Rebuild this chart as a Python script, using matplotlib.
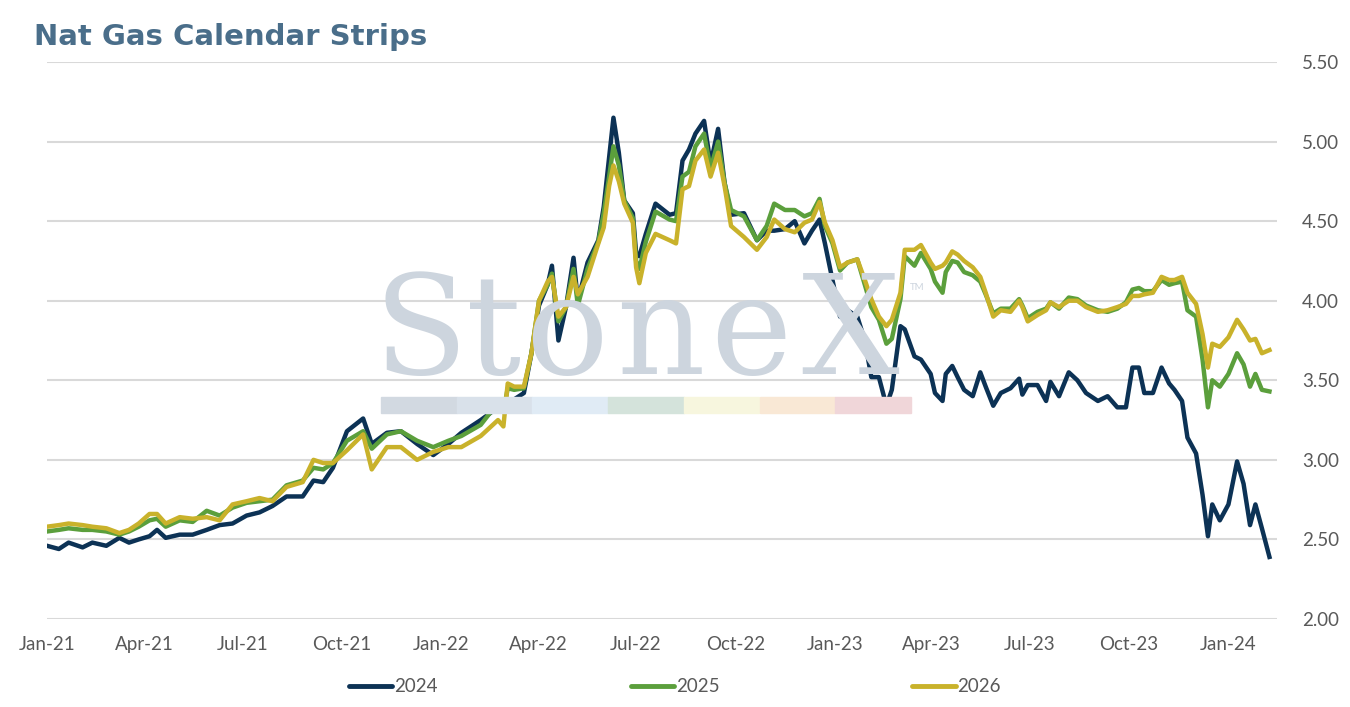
import numpy as np
import pandas as pd
from matplotlib import pyplot as plt
import matplotlib.dates as mdates

# strip settlement prices ($/MMBtu)
dates = [
    '2021-01-01', '2021-01-12', '2021-01-21', '2021-02-03', '2021-02-12', '2021-02-25',
    '2021-03-09', '2021-03-18', '2021-03-27', '2021-04-06', '2021-04-13', '2021-04-21',
    '2021-05-04', '2021-05-16', '2021-05-29', '2021-06-10', '2021-06-22', '2021-07-05',
    '2021-07-17', '2021-07-29', '2021-08-11', '2021-08-26', '2021-09-05',
    '2021-09-14', '2021-09-23', '2021-10-06', '2021-10-21', '2021-10-29', '2021-11-12',
    '2021-11-25', '2021-12-10', '2021-12-25',
    '2022-01-08', '2022-01-20', '2022-02-07', '2022-02-23', '2022-02-28', '2022-03-04',
    '2022-03-10', '2022-03-19', '2022-03-26', '2022-04-02', '2022-04-10', '2022-04-14',
    '2022-04-20', '2022-04-27', '2022-05-04', '2022-05-08', '2022-05-17', '2022-05-27',
    '2022-06-01', '2022-06-06', '2022-06-10', '2022-06-15', '2022-06-20', '2022-06-28',
    '2022-07-01', '2022-07-04', '2022-07-10', '2022-07-19', '2022-08-01', '2022-08-07',
    '2022-08-13', '2022-08-19', '2022-08-25', '2022-09-02', '2022-09-08', '2022-09-15',
    '2022-09-21', '2022-09-27', '2022-10-09', '2022-10-21', '2022-10-30', '2022-11-06',
    '2022-11-16', '2022-11-25', '2022-12-04', '2022-12-11', '2022-12-18', '2022-12-23',
    '2022-12-30',
    '2023-01-06', '2023-01-13', '2023-01-22', '2023-01-29', '2023-02-04', '2023-02-11',
    '2023-02-18', '2023-02-23', '2023-03-03', '2023-03-07', '2023-03-16', '2023-03-22',
    '2023-03-31', '2023-04-04', '2023-04-11', '2023-04-14', '2023-04-20', '2023-04-25',
    '2023-05-01', '2023-05-09', '2023-05-16', '2023-05-21', '2023-05-28', '2023-06-04',
    '2023-06-13', '2023-06-21', '2023-06-24', '2023-06-29', '2023-07-08', '2023-07-16',
    '2023-07-20', '2023-07-28', '2023-08-06', '2023-08-14', '2023-08-22', '2023-09-02',
    '2023-09-11', '2023-09-20', '2023-09-28', '2023-10-04', '2023-10-10', '2023-10-15',
    '2023-10-23', '2023-10-31', '2023-11-07',
    '2023-11-12', '2023-11-19', '2023-11-24', '2023-12-02', '2023-12-08', '2023-12-13',
    '2023-12-17', '2023-12-24',
    '2024-01-01', '2024-01-09', '2024-01-15', '2024-01-21', '2024-01-26', '2024-02-01',
    '2024-02-08',
]

cal_2024 = [
    2.46, 2.44, 2.48, 2.45, 2.48, 2.46,
    2.51, 2.48, 2.50, 2.52, 2.56, 2.51,
    2.53, 2.53, 2.56, 2.59, 2.60, 2.65,
    2.67, 2.71, 2.77, 2.77, 2.87,
    2.86, 2.95, 3.18, 3.26, 3.10, 3.17,
    3.18, 3.10, 3.03,
    3.10, 3.17, 3.25, 3.33, 3.30, 3.36,
    3.38, 3.42, 3.67, 3.97, 4.10, 4.22,
    3.75, 3.96, 4.27, 4.00, 4.24, 4.38,
    4.59, 4.90, 5.15, 4.93, 4.63, 4.55,
    4.30, 4.28, 4.42, 4.61, 4.54, 4.55,
    4.88, 4.95, 5.05, 5.13, 4.86, 5.08,
    4.74, 4.54, 4.55, 4.38, 4.44, 4.44,
    4.45, 4.50, 4.36, 4.44, 4.51, 4.36,
    4.13,
    3.90, 3.94, 3.90, 3.75, 3.52, 3.52,
    3.34, 3.44, 3.84, 3.82, 3.65, 3.63,
    3.54, 3.42, 3.37, 3.54, 3.59, 3.52,
    3.44, 3.40, 3.55, 3.46, 3.34, 3.42,
    3.45, 3.51, 3.41, 3.47, 3.47, 3.37,
    3.49, 3.40, 3.55, 3.50, 3.42, 3.37,
    3.40, 3.33, 3.33, 3.58, 3.58, 3.42,
    3.42, 3.58, 3.48,
    3.44, 3.37, 3.14, 3.04, 2.78, 2.52,
    2.72, 2.62,
    2.72, 2.99, 2.85, 2.59, 2.72, 2.57,
    2.39,
]

cal_2025 = [
    2.55, 2.56, 2.57, 2.56, 2.56, 2.55,
    2.53, 2.55, 2.58, 2.62, 2.63, 2.58,
    2.62, 2.61, 2.68, 2.65, 2.70, 2.73,
    2.74, 2.75, 2.84, 2.87, 2.95,
    2.94, 2.98, 3.12, 3.18, 3.07, 3.16,
    3.18, 3.12, 3.08,
    3.12, 3.15, 3.22, 3.36, 3.30, 3.45,
    3.44, 3.45, 3.67, 4.00, 4.10, 4.17,
    3.87, 3.96, 4.20, 3.97, 4.20, 4.37,
    4.55, 4.78, 4.97, 4.85, 4.63, 4.52,
    4.25, 4.20, 4.37, 4.56, 4.51, 4.50,
    4.78, 4.81, 4.97, 5.05, 4.83, 5.00,
    4.74, 4.57, 4.53, 4.38, 4.47, 4.61,
    4.57, 4.57, 4.53, 4.55, 4.64, 4.47,
    4.36,
    4.19, 4.24, 4.26, 4.10, 3.96, 3.88,
    3.73, 3.76, 4.01, 4.28, 4.22, 4.30,
    4.20, 4.12, 4.05, 4.18, 4.25, 4.24,
    4.18, 4.16, 4.12, 4.04, 3.92, 3.95,
    3.95, 4.01, 3.97, 3.89, 3.93, 3.95,
    3.99, 3.95, 4.02, 4.01, 3.97, 3.94,
    3.93, 3.95, 3.99, 4.07, 4.08, 4.06,
    4.06, 4.13, 4.10,
    4.11, 4.12, 3.94, 3.90, 3.63, 3.33,
    3.50, 3.46,
    3.54, 3.67, 3.60, 3.46, 3.54, 3.44,
    3.43,
]

cal_2026 = [
    2.58, 2.59, 2.60, 2.59, 2.58, 2.57,
    2.54, 2.56, 2.60, 2.66, 2.66, 2.60,
    2.64, 2.63, 2.64, 2.62, 2.72, 2.74,
    2.76, 2.74, 2.83, 2.86, 3.00,
    2.98, 2.98, 3.06, 3.16, 2.94, 3.08,
    3.08, 3.00, 3.05,
    3.08, 3.08, 3.15, 3.25, 3.21, 3.48,
    3.46, 3.46, 3.67, 4.00, 4.12, 4.15,
    3.90, 3.96, 4.15, 4.04, 4.15, 4.36,
    4.46, 4.72, 4.85, 4.75, 4.61, 4.49,
    4.21, 4.11, 4.30, 4.42, 4.38, 4.36,
    4.70, 4.72, 4.88, 4.95, 4.78, 4.93,
    4.72, 4.47, 4.40, 4.32, 4.40, 4.51,
    4.45, 4.43, 4.49, 4.51, 4.62, 4.49,
    4.38,
    4.21, 4.24, 4.26, 4.13, 4.01, 3.90,
    3.84, 3.88, 4.05, 4.32, 4.32, 4.35,
    4.24, 4.20, 4.22, 4.24, 4.31, 4.29,
    4.25, 4.21, 4.15, 4.05, 3.90, 3.94,
    3.93, 4.00, 3.96, 3.87, 3.91, 3.94,
    3.99, 3.96, 4.00, 4.00, 3.96, 3.93,
    3.94, 3.96, 3.98, 4.03, 4.03, 4.04,
    4.05, 4.15, 4.13,
    4.13, 4.15, 4.05, 3.98, 3.79, 3.58,
    3.73, 3.71,
    3.77, 3.88, 3.82, 3.75, 3.76, 3.67,
    3.69,
]

years = ['2024', '2025', '2026']
colors = ['#0c3255', '#5b9f3c', '#c9b22b']

plt.rcParams['font.family'] = ['Lato', 'DejaVu Sans']

dt = pd.to_datetime(dates)
fig = plt.figure(figsize=(13.5, 7.07), dpi=100)
ax = fig.add_axes([47 / 1350, 1 - 619 / 707, 1230 / 1350, 557 / 707])

# watermark behind the data
wm_color = '#cdd5de'
for ch, xc in zip('StoneX', [421, 494, 567, 660, 751, 850]):
    fig.text(xc / 1350, 1 - 374 / 707, ch, fontsize=99, color=wm_color,
             family='DejaVu Serif', ha='center', va='baseline', zorder=0)
fig.text(910 / 1350, 1 - 290 / 707, 'TM', fontsize=7, color=wm_color, zorder=0)
band = ['#d2d9e1', '#d9e1ea', '#e0ebf5', '#d4e3db', '#f7f6de', '#f9e8d5', '#f0d6d9']
for i, c in enumerate(band):
    x0 = 381 + i * 75.7
    fig.patches.append(plt.Rectangle((x0 / 1350, 1 - 413 / 707), 75.7 / 1350, 16 / 707,
                                     transform=fig.transFigure, color=c, zorder=0))
ax.set_facecolor('none')

for vals, name, c in zip([cal_2024, cal_2025, cal_2026], years, colors):
    ax.plot(dt, vals, color=c, lw=3.2, label=name, solid_joinstyle='round')

ax.set_ylim(2.0, 5.5)
ax.set_yticks(np.arange(2.0, 5.51, 0.5))
ax.yaxis.set_major_formatter(plt.FuncFormatter(lambda v, p: f'{v:.2f}'))
ax.yaxis.tick_right()
ax.set_xlim(pd.Timestamp('2021-01-01'), pd.Timestamp('2024-02-15'))
ax.xaxis.set_major_locator(mdates.MonthLocator(bymonth=[1, 4, 7, 10]))
ax.xaxis.set_major_formatter(mdates.DateFormatter('%b-%y'))
ax.tick_params(axis='both', length=0, labelsize=13.5, colors='#595959')
ax.tick_params(axis='y', pad=18)
ax.tick_params(axis='x', pad=12)
ax.grid(axis='y', color='#d9d9d9', lw=1.5)
ax.set_axisbelow(True)
for s in ax.spines.values():
    s.set_visible(False)

fig.text(34 / 1350, 1 - 45 / 707, 'Nat Gas Calendar Strips', fontsize=21,
         fontweight='bold', color='#4a6e8a', va='baseline', ha='left',
         family='DejaVu Sans')

leg = fig.legend(loc='center', bbox_to_anchor=(0.5, 1 - 687 / 707), ncol=3,
                 frameon=False, fontsize=13.5, handlelength=2.3, handletextpad=0.1,
                 columnspacing=10.3)
for t in leg.get_texts():
    t.set_color('#595959')
for h in leg.legend_handles:
    h.set_linewidth(3.5)
    h.set_solid_capstyle('round')

fig.savefig('out.png', dpi=100)
